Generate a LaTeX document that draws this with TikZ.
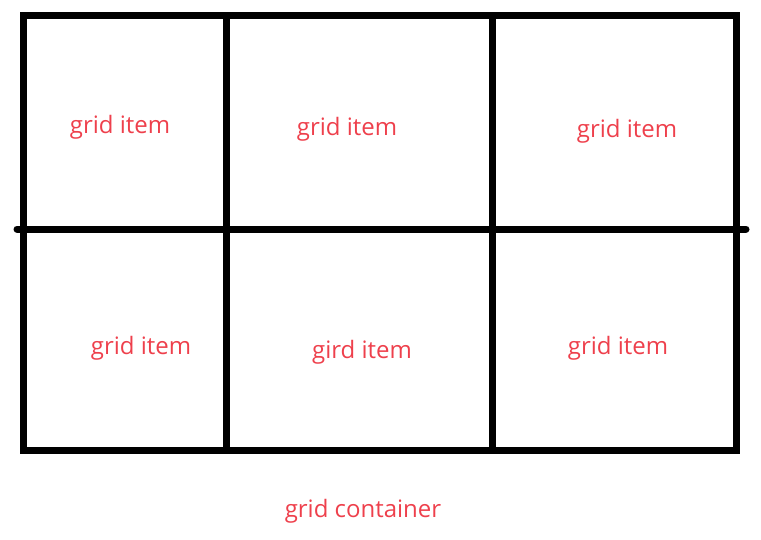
\documentclass[tikz,border=0pt]{standalone}
\usepackage{fontspec}
\setmainfont{Open Sans}
\definecolor{itemred}{RGB}{238,64,76}

\begin{document}
\begin{tikzpicture}[x=1pt, y=-1pt,
  wall/.style={line width=7pt, black},
  label/.style={text=itemred, font=\fontsize{24}{27}\selectfont, inner sep=0pt}]
        \useasboundingbox (0,0) rectangle (761,539);
        \draw[wall] (23,15) rectangle (736,450);
        \draw[wall] (226,15) to (226,450);
        \draw[wall] (492,15) to (492,450);
        \draw[wall, line cap=round] (17,229) to (746,229);
        \node[label] (item1) at (120,127) {grid item};
        \node[label] (item2) at (347,129) {grid item};
        \node[label] (item3) at (627,131) {grid item};
        \node[label] (item4) at (141,348) {grid item};
        \node[label] (item5) at (362,352) {gird item};
        \node[label] (item6) at (618,348) {grid item};
        \node[label] (box) at (363,511) {grid container};
  \end{tikzpicture}
\end{document}
